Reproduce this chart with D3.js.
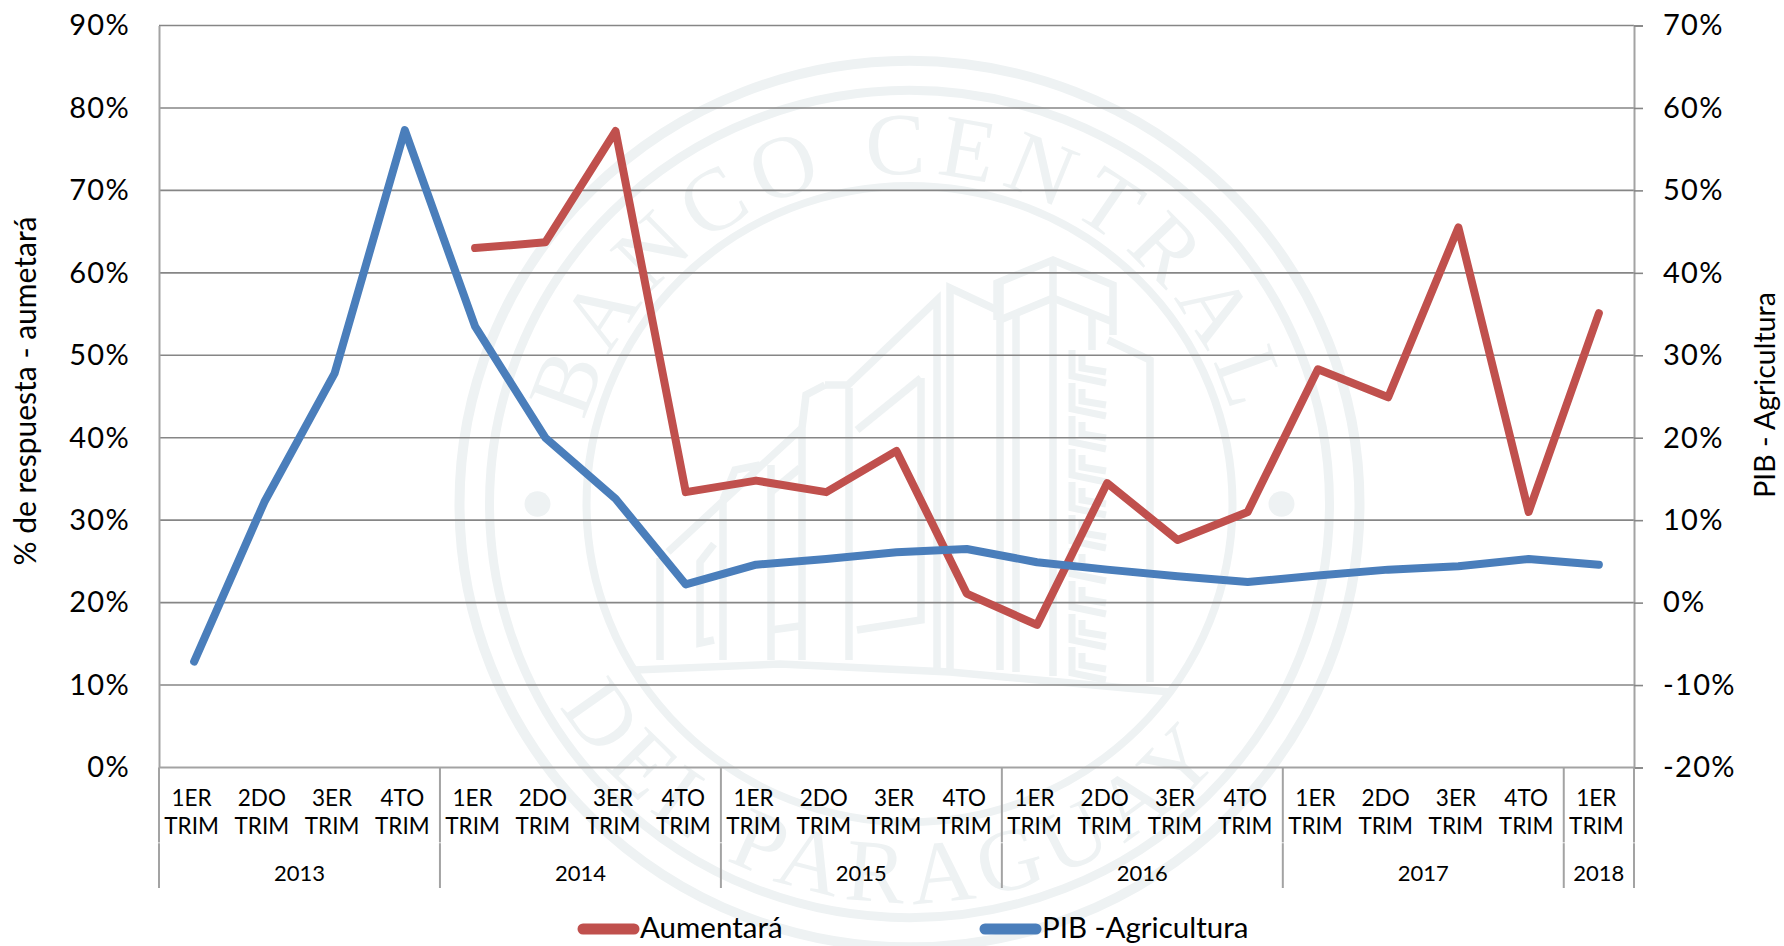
<!DOCTYPE html>
<html lang="es"><head><meta charset="utf-8">
<script src="https://cdn.jsdelivr.net/npm/d3@7"></script>
<style>
html,body{margin:0;padding:0;background:#fff;overflow:hidden}
svg{display:block}
text{font-family:Lato,"Noto Sans",sans-serif;fill:#000}
</style></head><body><svg id="c" width="1784" height="946"></svg>
<script>
const quarters = ["1ER","2DO","3ER","4TO","1ER","2DO","3ER","4TO","1ER","2DO","3ER","4TO","1ER","2DO","3ER","4TO","1ER","2DO","3ER","4TO","1ER"];
const yearNames = ["2013","2014","2015","2016","2017","2018"];
const yearCounts = [4,4,4,4,4,1];
const aumentara = [null,null,null,null,63,63.7,77.2,33.4,34.8,33.4,38.4,21.1,17.3,34.5,27.6,31,48.3,44.9,65.5,31,55.1];
const pibAgricultura = [-7.15,12.2,27.8,57.3,33.5,20,12.6,2.2,4.6,5.3,6.1,6.5,4.9,4,3.2,2.5,3.3,4,4.4,5.3,4.6];
const leftTicks = [0,10,20,30,40,50,60,70,80,90];
const rightTicks = [-20,-10,0,10,20,30,40,50,60,70];
const seriesNames = ["Aumentará","PIB -Agricultura"];
const axisTitles = ["% de respuesta - aumetará","PIB - Agricultura"];
const sealTop = "BANCO CENTRAL", sealBottom = "DEL PARAGUAY";

const W=1784,H=946,L=159,R=1634,T=25.5,B=767.5,FOOT=888;
const RED="#c0504d",BLUE="#4a7ebb",GRID="#868686",AX="#a3a3a3",WM="#eef2f3";
const svg=d3.select("#c");

/* watermark */
const wm=svg.append("g");
const seal=wm.append("g").attr("transform","translate(909.5,504) scale(1,0.985)");
[[450,10],[420,9],[323,8]].forEach(([r,w])=>seal.append("circle").attr("r",r).attr("fill","none").attr("stroke",WM).attr("stroke-width",w));
[-372,372].forEach(x=>seal.append("circle").attr("cx",x).attr("r",13).attr("fill",WM));
const arc=(id,r,a0,a1,sweep)=>{
  const p=a=>[r*Math.sin(a*Math.PI/180),-r*Math.cos(a*Math.PI/180)];
  const [x0,y0]=p(a0),[x1,y1]=p(a1);
  seal.append("path").attr("id",id).attr("fill","none").attr("d",`M${x0},${y0}A${r},${r} 0 0 ${sweep} ${x1},${y1}`);
};
arc("sealA",335,-80,80,1);
arc("sealB",405,-102,110,0);
seal.append("text").attr("font-size",90).attr("letter-spacing",10).style("font-family","'Liberation Serif',serif").style("fill",WM)
  .append("textPath").attr("href","#sealA").attr("startOffset","50%").attr("text-anchor","middle").text(sealTop);
seal.append("text").attr("font-size",90).attr("letter-spacing",9).style("font-family","'Liberation Serif',serif").style("fill",WM)
  .append("textPath").attr("href","#sealB").attr("startOffset","50%").attr("text-anchor","middle").text(sealBottom);
const buildings=[
 [[997,320],[997,283],[1053,260],[1113,285],[1113,335]],
 [[1000,320],[1053,298],[1113,322]],
 [[1053,262],[1053,676]],[[1000,283],[1000,670]],[[1016,316],[1016,672]],[[1092,312],[1092,350]],
 [[1108,340],[1150,360],[1150,682]],
 [[950,670],[950,288],[997,310]],
 [[937,668],[937,300],[848,385],[825,385]],
 [[825,385],[806,395],[802,428],[802,660]],[[849,388],[849,660]],
 [[921,378],[857,430]],[[921,378],[921,620],[857,630]],
 [[802,428],[668,552]],[[660,558],[660,660]],[[723,500],[723,660]],[[771,465],[771,660]],
 [[800,468],[771,492]],[[760,465],[735,470],[723,500]],
 [[714,544],[700,562],[700,643],[714,640]],[[771,630],[800,626]],
 [[635,670],[780,664],[950,672],[1170,692]]
];
wm.selectAll("path.b").data(buildings).join("path").attr("class","b")
  .attr("d",d3.line()).attr("fill","none").attr("stroke",WM).attr("stroke-width",7.5);
// ladder ornament on the tower
const rungs=d3.range(350,680,33);
wm.selectAll("path.r").data(rungs).join("path").attr("class","r").attr("fill","none").attr("stroke",WM).attr("stroke-width",7)
  .attr("d",y=>`M1072,${y}L1072,${y+26}L1106,${y+33}M1082,${y+6}L1082,${y+18}L1106,${y+22}`);

/* scales */
const x=d3.scaleBand().domain(d3.range(quarters.length)).range([L,R]);
const yL=d3.scaleLinear().domain([0,90]).range([B,T]);
const yR=d3.scaleLinear().domain([-20,70]).range([B,T]);
const cx=i=>x(i)+x.bandwidth()/2;

/* grid */
svg.append("g").selectAll("line").data(leftTicks).join("line")
  .attr("x1",L).attr("x2",R).attr("y1",d=>yL(d)).attr("y2",d=>yL(d))
  .attr("stroke",d=>d===0?AX:GRID).attr("stroke-width",d=>d===0?2:1.6);

/* axes */
const fmt=d=>d+"%";
const ga=svg.append("g").attr("transform",`translate(${L},0)`).call(d3.axisLeft(yL).tickValues(leftTicks).tickFormat(fmt).tickSize(0).tickPadding(29));
const gb=svg.append("g").attr("transform",`translate(${R},0)`).call(d3.axisRight(yR).tickValues(rightTicks).tickFormat(fmt).tickSize(9).tickPadding(20));
[ga,gb].forEach(g=>{
  g.select(".domain").attr("stroke",AX).attr("stroke-width",2);
  g.selectAll("text").attr("font-size",29).attr("letter-spacing",1.3).style("font-family","Lato,sans-serif");
});
gb.selectAll("line").attr("stroke",GRID).attr("stroke-width",1.6);

/* category axis */
const cat=svg.append("g");
let start=0;
const bounds=[0];
yearCounts.forEach(c=>{start+=c;bounds.push(start);});
const edge=i=>i<quarters.length?x(i):R;
bounds.forEach(b=>{
  [[B,842.4],[843.2,FOOT]].forEach(([a,z])=>cat.append("line").attr("x1",edge(b)).attr("x2",edge(b)).attr("y1",a).attr("y2",z).attr("stroke",AX).attr("stroke-width",2));
});
const qg=cat.selectAll("g.q").data(quarters).join("g").attr("class","q").attr("transform",(d,i)=>`translate(${cx(i)-2.5},0)`);
qg.append("text").attr("y",806).attr("text-anchor","middle").attr("font-size",22.5).text(d=>d);
qg.append("text").attr("y",834).attr("text-anchor","middle").attr("font-size",22.5).text("TRIM");
cat.selectAll("text.y").data(yearNames).join("text").attr("class","y").attr("y",881).attr("text-anchor","middle").attr("font-size",22)
  .attr("x",(d,i)=>(edge(bounds[i])+edge(bounds[i+1]))/2).text(d=>d);

/* lines */
const line=s=>d3.line().defined(d=>d!==null).x((d,i)=>cx(i)).y(d=>s(d));
svg.append("path").datum(aumentara).attr("d",line(yL)).attr("fill","none").attr("stroke",RED).attr("stroke-width",8).attr("stroke-linecap","round").attr("stroke-linejoin","round");
svg.append("path").datum(pibAgricultura).attr("d",line(yR)).attr("fill","none").attr("stroke",BLUE).attr("stroke-width",8).attr("stroke-linecap","round").attr("stroke-linejoin","round");

/* axis titles */
svg.append("text").attr("transform","translate(36,391) rotate(-90)").attr("text-anchor","middle").attr("font-size",30).text(axisTitles[0]);
svg.append("text").attr("transform","translate(1775,395) rotate(-90)").attr("text-anchor","middle").attr("font-size",28.5).text(axisTitles[1]);

/* legend */
const lg=svg.append("g");
[[578,RED],[980,BLUE]].forEach(([lx,c],i)=>{
  lg.append("line").attr("x1",lx+5).attr("x2",lx+56).attr("y1",929).attr("y2",929).attr("stroke",c).attr("stroke-width",11).attr("stroke-linecap","round");
  lg.append("text").attr("x",lx+62).attr("y",938).attr("font-size",29.5).text(seriesNames[i]);
});
</script></body></html>
